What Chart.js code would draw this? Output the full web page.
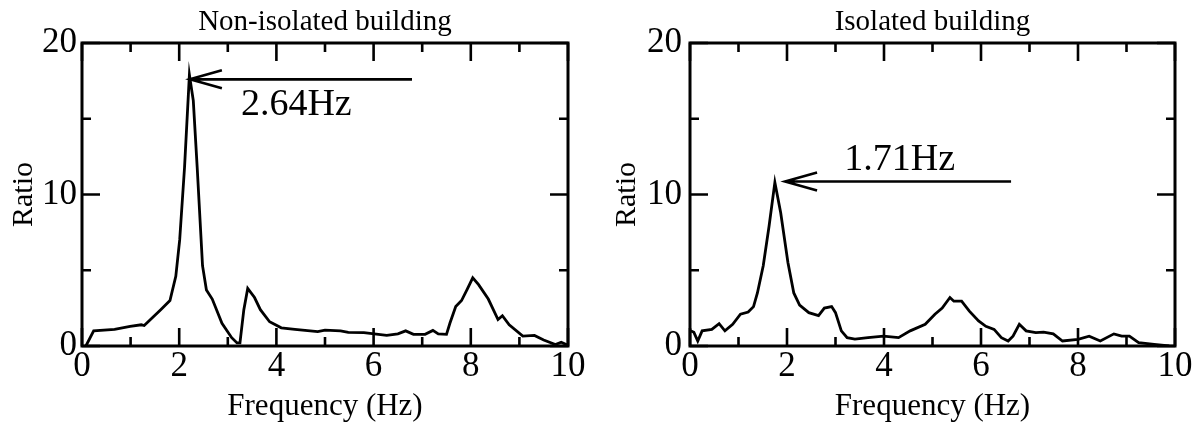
<!DOCTYPE html>
<html>
<head>
<meta charset="utf-8">
<script src="https://cdn.jsdelivr.net/npm/chart.js@4"></script>
<style>
    html, body { margin: 0; padding: 0; background: #fff; }
    #wrap { position: relative; width: 1199px; height: 427px; }
    .panel { position: absolute; top: 0; height: 427px; }
</style>
</head>
<body>
<div id="wrap">
    <div class="panel" style="left:0;width:600px"><canvas id="left"></canvas></div>
    <div class="panel" style="left:600px;width:599px"><canvas id="right"></canvas></div>
</div>
<script>
// Data

const freqNonIso = [0.08, 0.24, 0.67, 0.99, 1.22, 1.28, 1.62, 1.81, 1.93, 2.01,
    2.11, 2.21, 2.29, 2.37, 2.48, 2.56, 2.68, 2.88, 3.08, 3.19,
    3.25, 3.33, 3.41, 3.55, 3.67, 3.86, 4.1, 4.38, 4.85, 5.0,
    5.32, 5.48, 5.8, 6.27, 6.5, 6.66, 6.82, 7.06, 7.22, 7.33,
    7.5, 7.57, 7.69, 7.81, 7.92, 8.04, 8.16, 8.36, 8.56, 8.65,
    8.79, 9.07, 9.31, 9.5, 9.74, 9.86, 10];
const ratioNonIso = [0, 1.0, 1.1, 1.3, 1.4, 1.35, 2.4, 3.0, 4.6, 7.0,
    11.8, 17.9, 16.2, 11.8, 5.3, 3.7, 3.1, 1.5, 0.55, 0.2,
    0.2, 2.4, 3.8, 3.2, 2.4, 1.6, 1.2, 1.1, 0.95, 1.05,
    1.0, 0.9, 0.88, 0.7, 0.8, 1.0, 0.77, 0.77, 1.03, 0.8,
    0.77, 1.5, 2.6, 3.0, 3.7, 4.5, 4.05, 3.1, 1.75, 2.0,
    1.4, 0.65, 0.7, 0.4, 0.1, 0.25, 0.05];

const freqIso = [0, 0.08, 0.16, 0.25, 0.45, 0.6, 0.72, 0.88, 1.04, 1.2,
    1.31, 1.39, 1.51, 1.63, 1.75, 1.87, 2.02, 2.14, 2.26, 2.45,
    2.65, 2.77, 2.92, 3.0, 3.12, 3.24, 3.4, 3.67, 3.99, 4.3,
    4.54, 4.85, 5.05, 5.2, 5.36, 5.44, 5.6, 5.76, 5.95, 6.1,
    6.27, 6.42, 6.56, 6.66, 6.79, 6.93, 7.13, 7.29, 7.49, 7.68,
    8.0, 8.23, 8.46, 8.74, 8.9, 9.06, 9.25, 9.57, 9.88];
const ratioIso = [1.03, 0.9, 0.33, 1.0, 1.1, 1.47, 1.0, 1.43, 2.1, 2.24,
    2.6, 3.5, 5.3, 7.9, 10.8, 8.8, 5.5, 3.5, 2.7, 2.2,
    2.0, 2.5, 2.6, 2.2, 1.0, 0.55, 0.45, 0.55, 0.65, 0.55,
    1.0, 1.43, 2.1, 2.5, 3.2, 2.96, 2.96, 2.3, 1.65, 1.3,
    1.1, 0.55, 0.33, 0.65, 1.43, 1.0, 0.88, 0.92, 0.8, 0.33,
    0.44, 0.65, 0.33, 0.8, 0.65, 0.65, 0.22, 0.11, 0.0];

const peakLabels = ["2.64Hz", "1.71Hz"];

// Frame, inward ticks and arrow note

const framePlugin = {
    id: "frame",
    afterDraw(chart, args, opts) {
        const { ctx, chartArea: a, scales: { x, y } } = chart;
        ctx.save();
        ctx.strokeStyle = "#000";
        ctx.lineWidth = 3;
        ctx.strokeRect(a.left, a.top, a.right - a.left, a.bottom - a.top);

        ctx.lineWidth = 2.6;
        ctx.beginPath();
        for (let v = 0; v <= 10; v++) {
            const px = x.getPixelForValue(v);
            const len = v % 2 === 0 ? 18 : 9;
            ctx.moveTo(px, a.bottom); ctx.lineTo(px, a.bottom - len);
            ctx.moveTo(px, a.top); ctx.lineTo(px, a.top + len);
        }
        for (let v = 0; v <= 20; v += 5) {
            const py = y.getPixelForValue(v);
            const len = v % 10 === 0 ? 18 : 9;
            ctx.moveTo(a.left, py); ctx.lineTo(a.left + len, py);
            ctx.moveTo(a.right, py); ctx.lineTo(a.right - len, py);
        }
        ctx.stroke();

        const n = opts.note;
        if (n) {
            const tx = x.getPixelForValue(n.tip[0]);
            const ty = y.getPixelForValue(n.tip[1]);
            const ex = x.getPixelForValue(n.tail);
            ctx.beginPath();
            ctx.moveTo(ex, ty); ctx.lineTo(tx, ty);
            ctx.moveTo(tx + 32, ty - 9); ctx.lineTo(tx, ty); ctx.lineTo(tx + 32, ty + 9);
            ctx.stroke();
            ctx.font = '38px "Liberation Serif"';
            ctx.fillStyle = "#000";
            ctx.textBaseline = "alphabetic";
            ctx.fillText(n.text, x.getPixelForValue(n.at[0]), y.getPixelForValue(n.at[1]));
        }
        ctx.restore();
    }
};

const serif = "'Liberation Serif', 'Times New Roman', serif";

function makeChart(id, title, freq, ratio, yWidth, yPad, titlePad, padRight, note) {
    const points = freq.map((f, i) => ({ x: f, y: ratio[i] }));
    return new Chart(document.getElementById(id), {
        type: "line",
        data: {
            datasets: [{
                data: points,
                borderColor: "#000",
                borderWidth: 2.8,
                pointRadius: 0,
                tension: 0,
                fill: false
            }]
        },
        options: {
            responsive: true,
            maintainAspectRatio: false,
            animation: false,
            layout: { padding: { left: 0, right: padRight, top: 0, bottom: 0 } },
            plugins: {
                legend: { display: false },
                tooltip: { enabled: false },
                frame: { note }
            },
            scales: {
                x: {
                    type: "linear",
                    min: 0,
                    max: 10,
                    grid: { display: false, drawTicks: false },
                    border: { display: false },
                    ticks: {
                        stepSize: 2,
                        padding: 0,
                        color: "#000",
                        font: { family: serif, size: 35 }
                    },
                    title: {
                        display: true,
                        text: "Frequency (Hz)",
                        color: "#000",
                        font: { family: serif, size: 31 },
                        padding: { top: 0, bottom: 2 }
                    },
                    afterFit: s => { s.height = 81; }
                },
                // top axis only carries the panel title, centred on the plot
                top: {
                    type: "linear",
                    position: "top",
                    min: 0,
                    max: 10,
                    grid: { display: false, drawTicks: false },
                    border: { display: false },
                    ticks: { display: false },
                    title: {
                        display: true,
                        text: title,
                        color: "#000",
                        font: { family: serif, size: 29 },
                        padding: { top: 5, bottom: 0 }
                    },
                    afterFit: s => { s.height = 43; }
                },
                y: {
                    min: 0,
                    max: 20,
                    grid: { display: false, drawTicks: false },
                    border: { display: false },
                    ticks: {
                        stepSize: 10,
                        padding: yPad,
                        color: "#000",
                        font: { family: serif, size: 35 }
                    },
                    title: {
                        display: true,
                        text: "Ratio",
                        color: "#000",
                        font: { family: serif, size: 30 },
                        padding: { top: titlePad, bottom: 0 }
                    },
                    afterFit: s => { s.width = yWidth; }
                }
            }
        },
        plugins: [framePlugin]
    });
}

// Render

makeChart("left", "Non-isolated building", freqNonIso, ratioNonIso, 82, 5, 6, 32,
    { tip: [2.22, 17.6], tail: 6.79, text: peakLabels[0], at: [3.27, 15.25] });
makeChart("right", "Isolated building", freqIso, ratioIso, 90, 8, 9, 24,
    { tip: [1.96, 10.86], tail: 6.62, text: peakLabels[1], at: [3.18, 11.6] });
</script>
</body>
</html>
